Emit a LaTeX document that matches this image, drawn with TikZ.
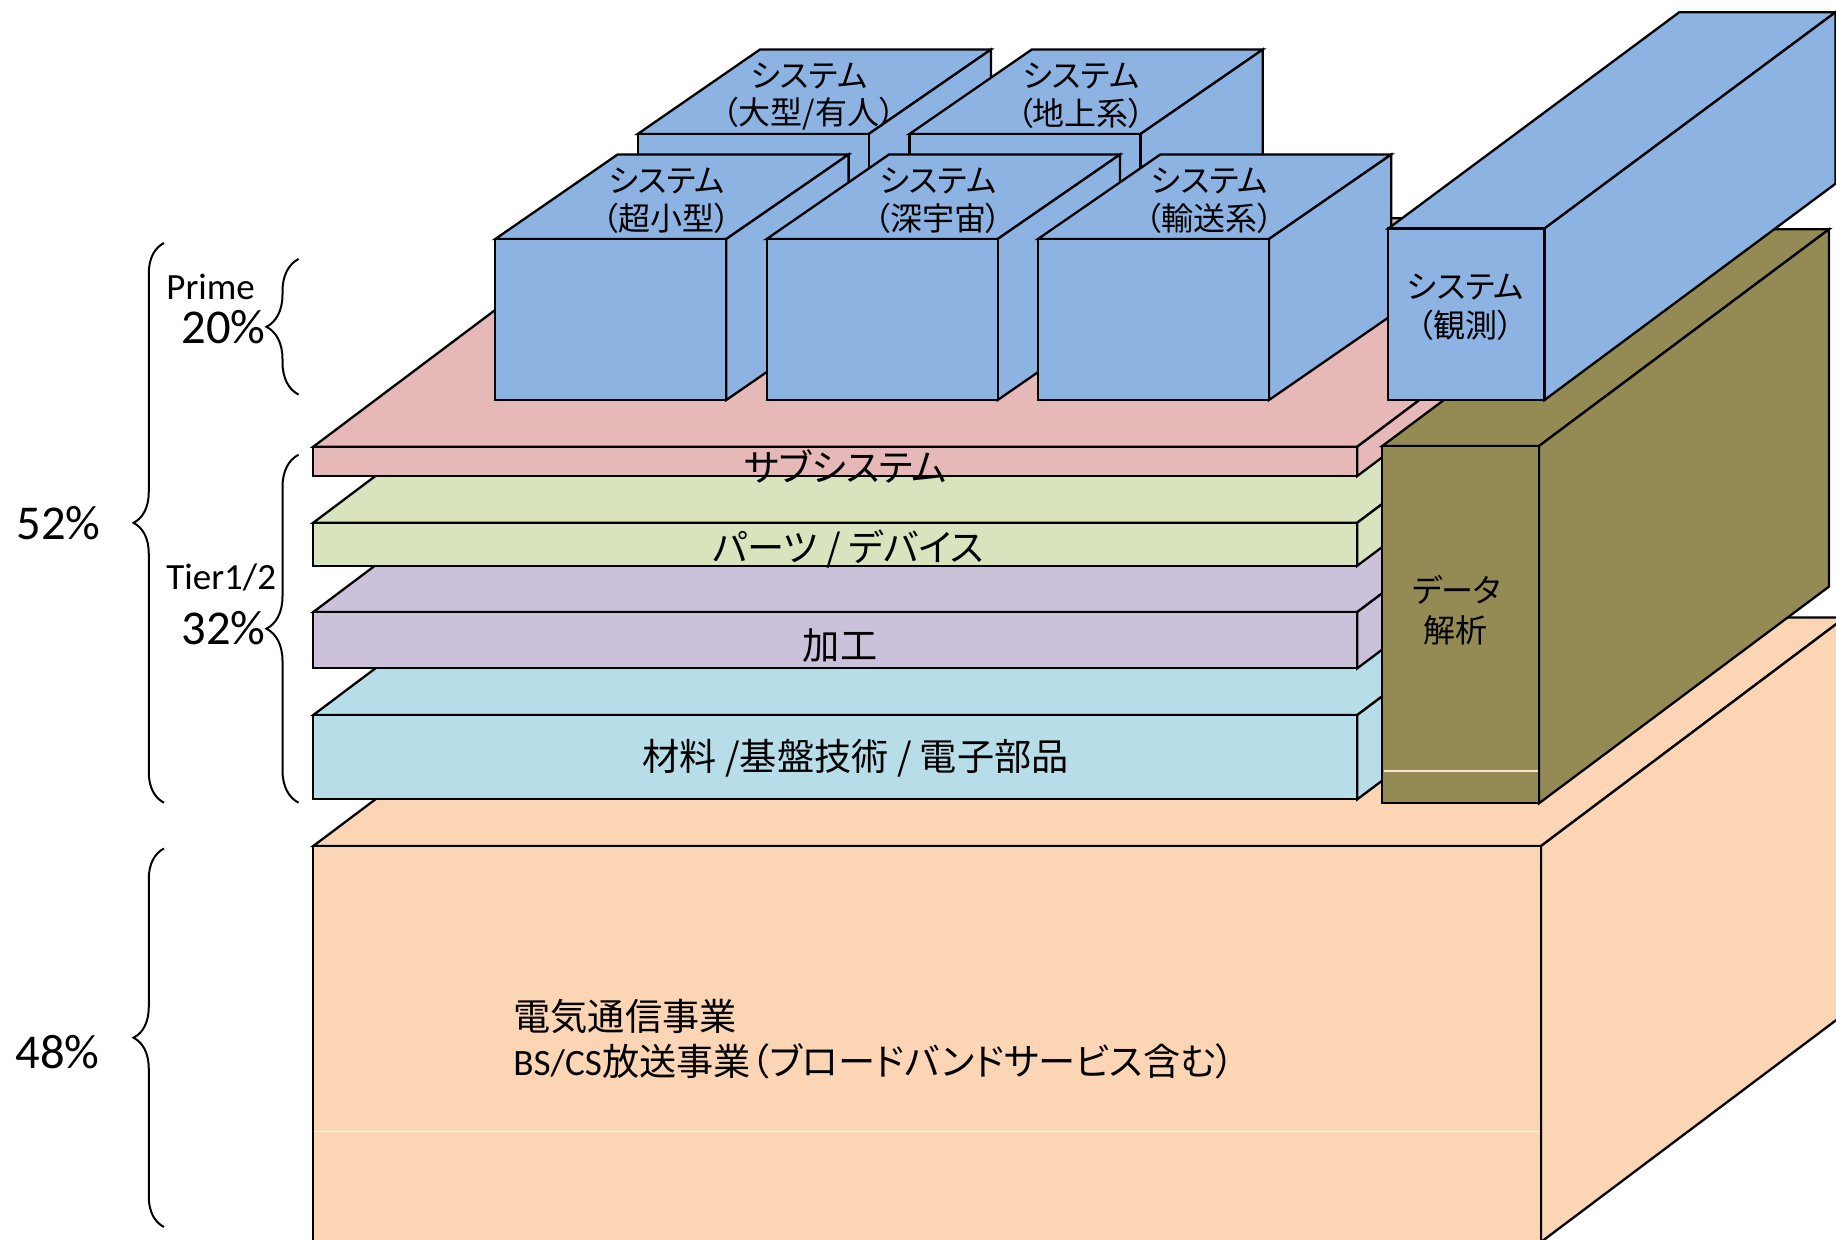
\documentclass[tikz,border=0pt]{standalone}
\usepackage{fontspec}
\newfontfamily\cjk[RawFeature=+palt]{Noto Sans CJK JP}
\newfontfamily\carlito{Carlito}
\usetikzlibrary{decorations.pathreplacing}
\definecolor{boxblue}{HTML}{8DB3E2}
\definecolor{subpink}{HTML}{E6B9B8}
\definecolor{partgreen}{HTML}{D7E4BD}
\definecolor{procpurple}{HTML}{CCC1DA}
\definecolor{matblue}{HTML}{B7DEE8}
\definecolor{basepeach}{HTML}{FCD5B5}
\definecolor{olivefill}{HTML}{948A54}
\tikzset{
  outl/.style={draw=black, line width=1.15pt, line join=miter},
  bigtxt/.style={font=\cjk\fontsize{18.6}{22}\selectfont, inner sep=0pt},
  boxtxt/.style={font=\cjk\fontsize{16}{19}\selectfont, inner sep=0pt},
  pcttxt/.style={font=\carlito\fontsize{24.3}{28}\selectfont, inner sep=0pt, anchor=base west},
  tiertxt/.style={font=\carlito\fontsize{18.5}{22}\selectfont, inner sep=0pt, anchor=base west},
  bracket/.style={decorate, decoration={brace, amplitude=#1}, line width=1pt},
}
% #1 colour, #2 front left x, #3 front right x, #4 top y, #5 bottom y, #6 depth dx, #7 depth dy
\newcommand{\drawprism}[7]{%
  \filldraw[outl, fill=#1] (#2,#4) -- ++(#6,-#7) -- ++(#3-#2,0) -- (#3,#4) -- cycle;
  \filldraw[outl, fill=#1] (#3,#4) -- ++(#6,-#7) -- ++(0,#5-#4) -- (#3,#5) -- cycle;
  \filldraw[outl, fill=#1] (#2,#4) rectangle (#3,#5);
}
\newcommand{\drawcube}[2]{%
  \drawprism{boxblue}{#1}{#1+231}{#2}{#2+161}{122.3}{84.5}%
}
\begin{document}
\begin{tikzpicture}[x=0.5pt,y=-0.5pt]
\useasboundingbox (0,0) rectangle (1836,1240);
\clip (0,0) rectangle (1836,1240);
\fill[white] (0,0) rectangle (1836,1240);

% base block
\drawprism{basepeach}{313.3}{1541}{846}{1242}{304}{228.5}
\draw[white, line width=0.6pt] (314,1131.3) -- (1540.4,1131.3);

% stacked slabs
\drawprism{matblue}{313.3}{1357.3}{715}{799.3}{304}{228.5}
\drawprism{procpurple}{313.3}{1357.3}{612}{668.3}{304}{228.5}
\drawprism{partgreen}{313.3}{1357.3}{522.7}{565.7}{304}{228.5}
\drawprism{subpink}{313.3}{1357.3}{446.7}{476}{304}{228.5}

\node[bigtxt] (sub) at (845.5,466.5) {サブシステム};
\node[bigtxt] (parts) at (848.4,548.6) {パーツ / デバイス};
\node[bigtxt] (proc) at (840,645.7) {加工};
\node[bigtxt] (mat) at (855.7,758.4) {材料 /基盤技術 / 電子部品};
\node[bigtxt, anchor=west] (tel1) at (513,1016.4) {電気通信事業};
\node[bigtxt, anchor=west] (tel2) at (513,1061) {{\carlito BS/CS}放送事業（ブロードバンドサービス含む）};

% system boxes, back row then front row
\drawcube{637.7}{134}
\drawcube{909.5}{134}
\drawcube{495.3}{239}
\drawcube{766.7}{239}
\drawcube{1038}{239}

\node[boxtxt] (bigA) at (809.1,75.8) {システム};
\node[boxtxt] (bigB) at (809.1,113.3) {（大型/有人）};
\node[boxtxt] (gndA) at (1080.9,75.8) {システム};
\node[boxtxt] (gndB) at (1080.9,113.3) {（地上系）};
\node[boxtxt] (smlA) at (666.7,180.8) {システム};
\node[boxtxt] (smlB) at (666.7,218.3) {（超小型）};
\node[boxtxt] (dspA) at (938.1,180.8) {システム};
\node[boxtxt] (dspB) at (938.1,218.3) {（深宇宙）};
\node[boxtxt] (trnA) at (1209.4,180.8) {システム};
\node[boxtxt] (trnB) at (1209.4,218.3) {（輸送系）};

% data analysis block
\drawprism{olivefill}{1382.3}{1539}{446}{803.3}{290}{216.7}
\draw[basepeach!70!white, line width=0.6pt] (1383.5,771) -- (1538,771);
\node[boxtxt] (dataA) at (1456.7,590) {データ};
\node[boxtxt] (dataB) at (1455.2,630) {解析};

% observation system
\drawprism{boxblue}{1388.3}{1544.5}{228.5}{400}{291}{216.3}
\node[boxtxt] (obsA) at (1465.4,286.7) {システム};
\node[boxtxt] (obsB) at (1465.4,325.5) {（観測）};

% braces
\draw[bracket=15.25pt] (164,802.7) -- (164,243);
\draw[bracket=16.1pt] (298.6,394.6) -- (298.6,259);
\draw[bracket=16.1pt] (298.6,802.7) -- (298.6,454.7);
\draw[bracket=15.25pt] (164,1227) -- (164,848.5);

% labels
\node[tiertxt] (prime) at (166,299.3) {Prime};
\node[pcttxt] (p20) at (181,344) {20\%};
\node[tiertxt] (tier) at (166,589) {Tier1/2};
\node[pcttxt] (p32) at (181,645) {32\%};
\node[pcttxt] (p52) at (16,539.7) {52\%};
\node[pcttxt] (p48) at (15,1068.8) {48\%};
\end{tikzpicture}
\end{document}
